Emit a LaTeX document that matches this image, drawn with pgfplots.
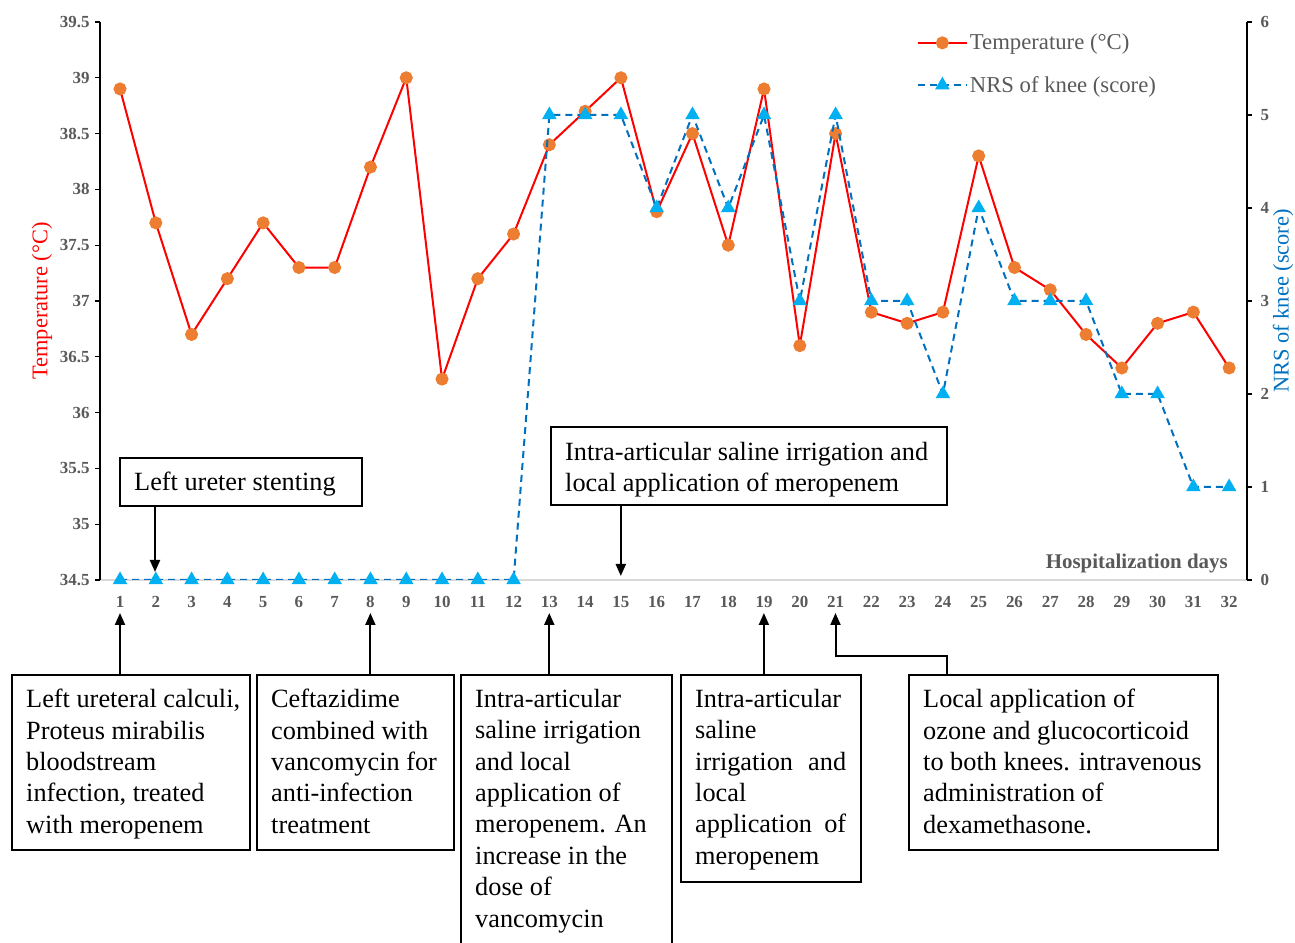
\documentclass[border=0pt]{standalone}
\usepackage{fontspec}
\setmainfont{Liberation Serif}
\usepackage{pgfplots}
\usepackage{pgfplotstable}
\pgfplotsset{compat=1.18}
\usetikzlibrary{arrows.meta}
\definecolor{tempred}{HTML}{FF0000}
\definecolor{markorange}{HTML}{ED7D31}
\definecolor{nrsblue}{HTML}{0070C0}
\definecolor{triblue}{HTML}{00B0F0}
\definecolor{tickgray}{HTML}{595959}
\definecolor{axgray}{HTML}{D9D9D9}

\pgfplotstableread{
day temp nrs
1  38.9 0
2  37.7 0
3  36.7 0
4  37.2 0
5  37.7 0
6  37.3 0
7  37.3 0
8  38.2 0
9  39.0 0
10 36.3 0
11 37.2 0
12 37.6 0
13 38.4 5
14 38.7 5
15 39.0 5
16 37.8 4
17 38.5 5
18 37.5 4
19 38.9 5
20 36.6 3
21 38.5 5
22 36.9 3
23 36.8 3
24 36.9 2
25 38.3 4
26 37.3 3
27 37.1 3
28 36.7 3
29 36.4 2
30 36.8 2
31 36.9 1
32 36.4 1
}\datatable

\pgfplotsset{
  common/.style={
    at={(100bp,363bp)}, anchor=south west,
    scale only axis, width=1147bp, height=558bp,
    xmin=0.44, xmax=32.5,
    tick align=outside, major tick length=5bp,
    tick label style={font=\fontsize{17}{17}\selectfont\bfseries, text=tickgray},
    y axis line style={draw=black, line width=1.2bp},
    ytick style={draw=black, line width=1.2bp},
  },
}

\begin{document}
\begin{tikzpicture}
\useasboundingbox (0,0) rectangle (1295bp,943bp);

\begin{axis}[common,
  ymin=34.5, ymax=39.5,
  axis x line*=bottom, axis y line*=left,
  x axis line style={draw=axgray, line width=1.2bp},
  xtick={1,...,32},
  xticklabels={1,2,3,4,5,6,7,8,9,10,11,12,13,14,15,16,17,18,19,20,21,22,23,24,25,26,27,28,29,30,31,32},
  xtick style={draw=none},
  xticklabel style={yshift=-8bp},
  yticklabel style={xshift=-2bp},
  ytick={34.5,35,35.5,36,36.5,37,37.5,38,38.5,39,39.5},
  yticklabels={34.5,35,35.5,36,36.5,37,37.5,38,38.5,39,39.5},
  ylabel={Temperature (°C)},
  ylabel style={font=\fontsize{22.5}{22.5}\selectfont, text=tempred, at={(axis description cs:-0.0506,0.5)}, anchor=center},
]
\addplot[tempred, line width=2bp, mark=*, mark size=5.5bp,
  mark options={fill=markorange, draw=markorange, solid}]
  table[x=day, y=temp]{\datatable};
\end{axis}

\begin{axis}[common,
  ymin=0, ymax=6,
  axis x line=none, axis y line*=right,
  ytick={0,1,2,3,4,5,6},
  yticklabels={0,1,2,3,4,5,6},
  yticklabel style={xshift=5bp},
  ylabel={NRS of knee (score)},
  ylabel style={font=\fontsize{22.5}{22.5}\selectfont, text=nrsblue, at={(axis description cs:1.0314,0.5)}, anchor=center},
  legend style={at={(axis description cs:0.712,0.982)}, anchor=north west,
    draw=none, fill=none, inner sep=0pt, row sep=21bp,
    font=\fontsize{22.8}{22.8}\selectfont, text=tickgray,
    cells={anchor=west}},
  legend image code/.code={\draw[mark repeat=2,mark phase=2,#1] plot coordinates {(0bp,0bp) (24.5bp,0bp) (49bp,0bp)};},
]
\addlegendimage{tempred, line width=2bp, mark=*, mark size=5.5bp, mark options={fill=markorange, draw=markorange, solid}}
\addlegendentry{Temperature (°C)}
\addplot[nrsblue, line width=2bp, dash pattern=on 7bp off 5bp, mark=triangle*, mark size=6.5bp,
  mark options={fill=triblue, draw=triblue, solid}]
  table[x=day, y=nrs]{\datatable};
\addlegendentry{NRS of knee (score)}
\end{axis}

\begin{scope}[x=1bp, y=1bp]
\node[anchor=base east, font=\fontsize{21}{21}\selectfont\bfseries, text=tickgray, inner sep=0pt] at (1228,375) {Hospitalization days};

\tikzset{box/.style={draw=black, line width=1.3bp},
  txt/.style={anchor=north west, inner sep=0pt, align=left, font=\fontsize{26.4}{31.5}\selectfont},
  arr/.style={line width=2bp, -{Triangle[width=10bp,length=12bp]}}}

% top boxes
\draw[box] (120,437) rectangle (362,485);
\node[txt] at (134,471) {Left ureter stenting};
\draw[arr] (155,437) -- (155,371);

\draw[box] (551,438) rectangle (947,516);
\node[txt] at (565,501) {Intra-articular saline irrigation and\\local application of meropenem};
\draw[arr] (620.8,438) -- (620.8,367);

% bottom boxes
\draw[box] (12,93) rectangle (250,268);
\node[txt] at (26,254) {Left ureteral calculi,\\Proteus mirabilis\\bloodstream\\infection, treated\\with meropenem};
\draw[arr] (120,268) -- (120,330);

\draw[box] (257,93) rectangle (454,268);
\node[txt] at (271,254) {Ceftazidime\\combined with\\vancomycin for\\anti-infection\\treatment};
\draw[arr] (370.4,268) -- (370.4,330);

\draw[box] (461,-3) rectangle (672,268);
\node[txt] at (475,254) {Intra-articular\\saline irrigation\\and local\\application of\\meropenem. An\\increase in the\\dose of\\vancomycin};
\draw[arr] (549.3,268) -- (549.3,330);

\draw[box] (681,61) rectangle (861,268);
\node[txt] at (695,254) {Intra-articular\\saline\\\makebox[151bp][s]{irrigation and}\\local\\\makebox[151bp][s]{application of}\\meropenem};
\draw[arr] (763.9,268) -- (763.9,330);

\draw[box] (909,93) rectangle (1218,268);
\node[txt] at (923,254) {Local application of\\ozone and glucocorticoid\\to both knees. intravenous\\administration of\\dexamethasone.};
\draw[arr] (947,268) -- (947,287) -- (835.5,287) -- (835.5,330);
\end{scope}
\end{tikzpicture}
\end{document}
